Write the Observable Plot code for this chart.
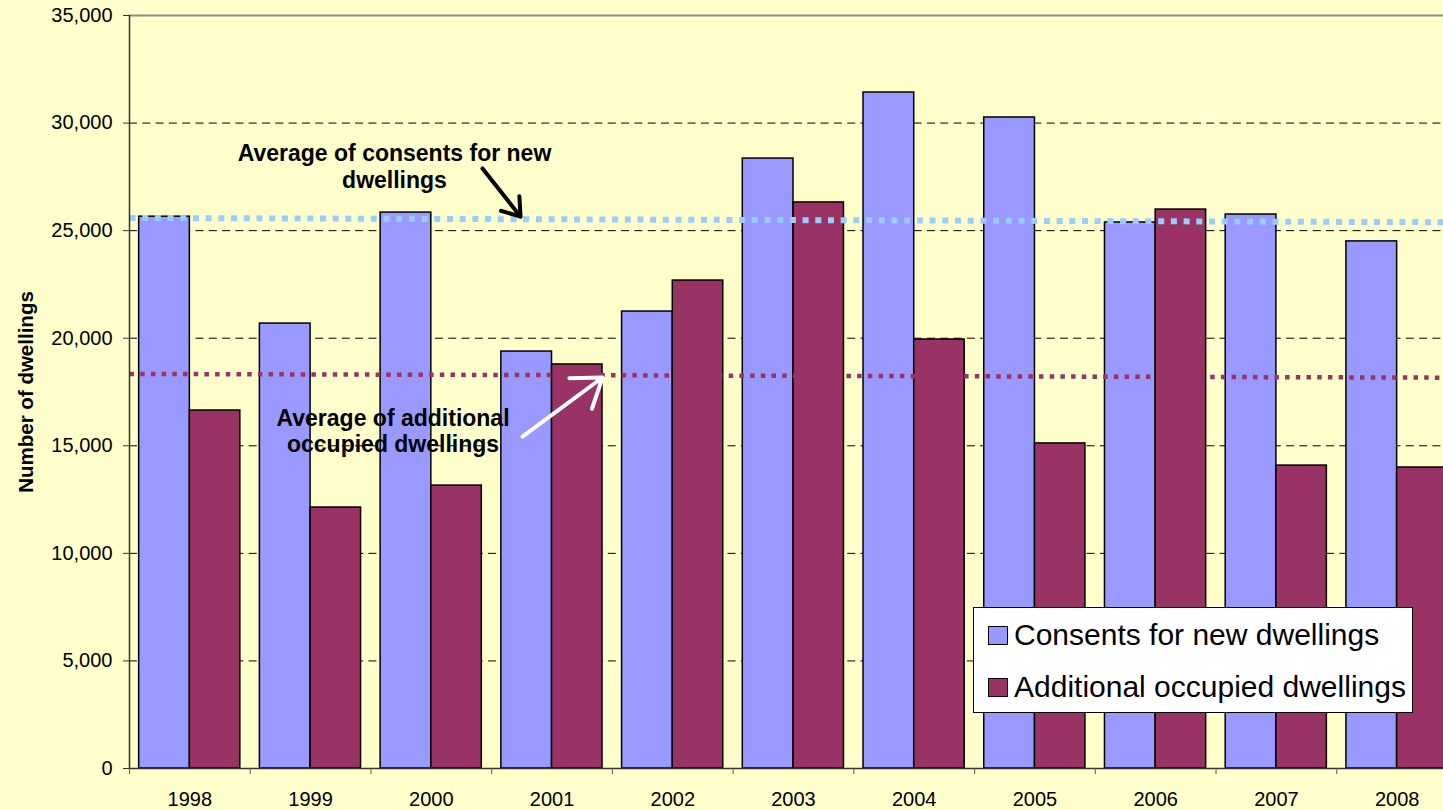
<!DOCTYPE html>
<html>
<head>
<meta charset="utf-8">
<script src="https://cdn.jsdelivr.net/npm/d3@7"></script>
<script src="https://cdn.jsdelivr.net/npm/@observablehq/plot@0.6"></script>
<style>
  html, body { margin: 0; padding: 0; background: #FFFFCC; overflow: hidden; }
  body { width: 1443px; height: 810px; position: relative; font-family: "Liberation Sans", Arial, sans-serif; }
  #chart { position: absolute; left: 0; top: 0; width: 1457px; }
  #chart svg { max-width: none !important; }
  #title { position: absolute; left: 769.5px; top: -20.4px; transform: translateX(-50%); font-size: 30px; line-height: 30px; white-space: nowrap; color: #000; }
  #legend { position: absolute; left: 973px; top: 607px; width: 438px; height: 104px; background: #fff; border: 1px solid #000; }
  .row { position: absolute; left: 14px; height: 30px; line-height: 30px; font-size: 30px; display: flex; align-items: center; white-space: nowrap; }
  .sw { width: 18px; height: 17px; border: 1.5px solid #000; margin-right: 6px; }
</style>
</head>
<body>
<div id="title">1998 - 2008</div>
<div id="chart"></div>
<div id="legend"></div>
<script>
// ---- data ----
const years = ["1998","1999","2000","2001","2002","2003","2004","2005","2006","2007","2008"];
const consents = [25650, 20680, 25840, 19380, 21240, 28350, 31420, 30260, 25380, 25750, 24500];
const additional = [16640, 12130, 13150, 18780, 22680, 26310, 19940, 15110, 25980, 14080, 13990];
const avgConsents = [25590, 25390];     // value at start and end of the category axis
const avgAdditional = [18340, 18165];
const yTicks = [0, 5000, 10000, 15000, 20000, 25000, 30000, 35000];
const seriesNames = ["Consents for new dwellings", "Additional occupied dwellings"];
const seriesColors = ["#9999FF", "#993366"];
const notes = [
  {x: 2.195, y: 28010, text: "Average of consents for new\ndwellings"},
  {x: 2.183, y: 15715, text: "Average of additional\noccupied dwellings"}
];
const arrows = [
  {x1: 2.924, y1: 27890, x2: 3.239, y2: 25650, color: "#000"},
  {x1: 3.255, y1: 15430, x2: 3.918, y2: 18174, color: "#fff"}
];

const n = years.length;
const consentRows = consents.map((v, i) => ({i, v}));
const additionalRows = additional.map((v, i) => ({i, v}));
const avgC = avgConsents.map((v, k) => ({x: k * n, v}));
const avgA = avgAdditional.map((v, k) => ({x: k * n, v}));

const plot = Plot.plot({
  width: 1457,
  height: 810,
  marginLeft: 129,
  marginRight: 0,
  marginTop: 15,
  marginBottom: 42,
  style: {background: "#FFFFCC", fontFamily: "'Liberation Sans', Arial, sans-serif", fontSize: "20px", color: "#000", overflow: "visible", maxWidth: "none"},
  x: {type: "linear", domain: [0, n]},
  y: {domain: [0, 35000]},
  marks: [
    Plot.ruleY(yTicks.filter(t => t > 0 && t < 35000), {stroke: "#000", strokeWidth: 1, strokeDasharray: "8,5.3"}),
    Plot.ruleY([35000], {stroke: "#8a8a8a", strokeWidth: 2}),
    Plot.rectY(consentRows, {x1: d => d.i + 0.08, x2: d => d.i + 0.5, y1: 0, y2: "v", fill: seriesColors[0], stroke: "#000", strokeWidth: 1.5}),
    Plot.rectY(additionalRows, {x1: d => d.i + 0.5, x2: d => d.i + 0.918, y1: 0, y2: "v", fill: seriesColors[1], stroke: "#000", strokeWidth: 1.5}),
    Plot.line(avgC, {x: "x", y: "v", stroke: "#99CCFF", strokeWidth: 6, strokeDasharray: "6,6.7", strokeLinecap: "butt"}),
    Plot.line(avgA, {x: "x", y: "v", stroke: "#993366", strokeWidth: 4.5, strokeDasharray: "4.5,6.2", strokeLinecap: "butt"}),
    Plot.ruleX([0], {stroke: "#333", strokeWidth: 1.5}),
    Plot.ruleY([0], {stroke: "#333", strokeWidth: 1.5}),
    Plot.axisY({ticks: yTicks, tickFormat: d3.format(","), tickSize: 6, tickPadding: 11, label: null, stroke: "#333"}),
    Plot.axisX({ticks: d3.range(n + 1), tickFormat: () => "", tickSize: 6, label: null, stroke: "#555"}),
    Plot.axisX({ticks: d3.range(n).map(i => i + 0.5), tickFormat: d => years[Math.floor(d)], tickSize: 0, tickPadding: 23, label: null}),
    Plot.text(["Number of dwellings"], {frameAnchor: "left", textAnchor: "middle", lineAnchor: "middle", rotate: -90, dx: -103, fontWeight: "bold", fontSize: 20.5, fill: "#000"}),
    Plot.text(notes, {x: "x", y: "y", text: "text", fontWeight: "bold", fontSize: 23, lineHeight: 1.17, textAnchor: "middle", lineAnchor: "middle", fill: "#000"}),
    Plot.arrow(arrows, {x1: "x1", y1: "y1", x2: "x2", y2: "y2", stroke: d => d.color, strokeWidth: 4, headLength: 16, headAngle: 70})
  ]
});
document.getElementById("chart").appendChild(plot);

const legend = document.getElementById("legend");
const rowTops = [12, 64];
seriesNames.forEach((name, k) => {
  const row = document.createElement("div");
  row.className = "row";
  row.style.top = rowTops[k] + "px";
  const sw = document.createElement("div");
  sw.className = "sw";
  sw.style.background = seriesColors[k];
  const t = document.createElement("span");
  t.textContent = name;
  row.appendChild(sw);
  row.appendChild(t);
  legend.appendChild(row);
});
</script>
</body>
</html>
